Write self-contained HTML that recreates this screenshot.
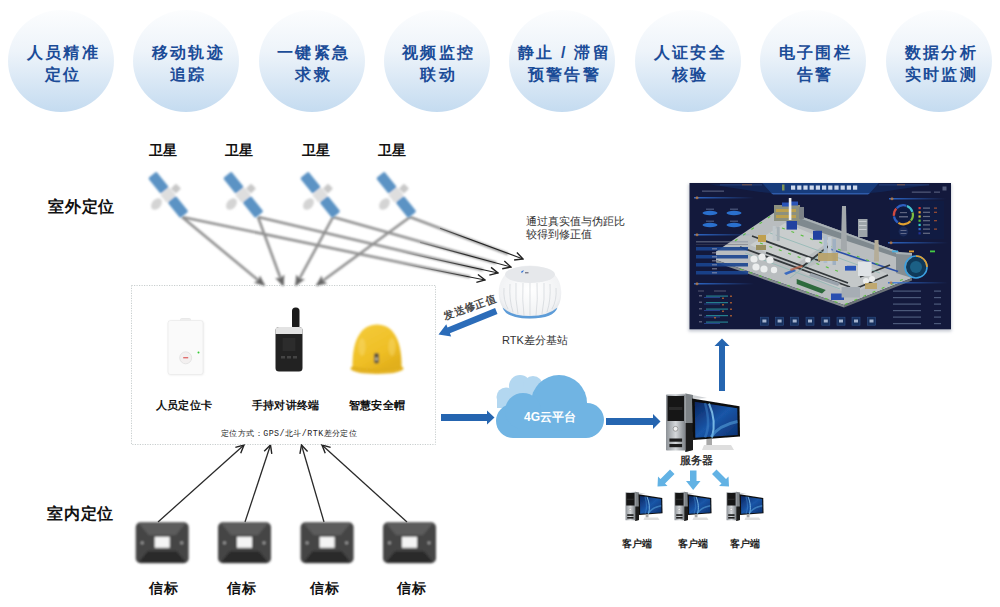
<!DOCTYPE html>
<html><head><meta charset="utf-8">
<style>
*{margin:0;padding:0;box-sizing:border-box}
html,body{width:1000px;height:607px;overflow:hidden;background:#fff}
body{position:relative;font-family:"Liberation Sans",sans-serif}
.c{position:absolute;width:106px;height:102px;border-radius:50%;
 background:linear-gradient(180deg,#fcfdfe 0%,#eef4fa 40%,#c4dbf0 100%);
 color:#1b4c98;font-weight:bold;font-size:16px;line-height:21.5px;text-align:center;
 display:flex;align-items:center;justify-content:center;letter-spacing:2.3px;padding-left:4.5px;padding-top:5px}
.t{position:absolute;z-index:2;font-weight:bold;color:#111;white-space:nowrap}
.n{position:absolute;z-index:2;color:#333;white-space:nowrap}
svg.ov{position:absolute;left:0;top:0}
</style></head><body>
<div class="c" style="left:8px;top:10px">人员精准<br>定位</div>
<div class="c" style="left:133px;top:10px">移动轨迹<br>追踪</div>
<div class="c" style="left:258.5px;top:10px">一键紧急<br>求救</div>
<div class="c" style="left:383.5px;top:10px">视频监控<br>联动</div>
<div class="c" style="left:509px;top:10px">静止 / 滞留<br>预警告警</div>
<div class="c" style="left:635px;top:10px">人证安全<br>核验</div>
<div class="c" style="left:760px;top:10px">电子围栏<br>告警</div>
<div class="c" style="left:886px;top:10px">数据分析<br>实时监测</div>

<div class="t" style="left:149px;top:142px;font-size:14px">卫星</div>
<div class="t" style="left:225px;top:142px;font-size:14px">卫星</div>
<div class="t" style="left:302px;top:142px;font-size:14px">卫星</div>
<div class="t" style="left:377.5px;top:142px;font-size:14px">卫星</div>
<div class="t" style="left:48px;top:197px;font-size:16px;letter-spacing:0.8px">室外定位</div>
<div class="t" style="left:47px;top:504px;font-size:16px;letter-spacing:0.8px">室内定位</div>
<div class="n" style="left:526px;top:215px;font-size:11px;line-height:13px">通过真实值与伪距比<br>较得到修正值</div>
<div class="n" style="left:502px;top:333px;font-size:11px">RTK差分基站</div>
<div class="n" style="left:444px;top:310.3px;font-size:10.5px;line-height:13px;font-weight:bold;color:#4a4a4a;transform:rotate(-20deg);transform-origin:0 50%">发送修正值</div>

<div class="t" style="left:156px;top:398px;font-size:11px;letter-spacing:0.2px">人员定位卡</div>
<div class="t" style="left:252px;top:398px;font-size:11px;letter-spacing:0.2px">手持对讲终端</div>
<div class="t" style="left:349px;top:398px;font-size:11px;letter-spacing:0.2px">智慧安全帽</div>
<div class="n" style="left:221px;top:428px;font-size:8.3px;letter-spacing:0.45px;font-family:'Liberation Mono',monospace;color:#222">定位方式：GPS/北斗/RTK差分定位</div>

<div class="t" style="left:149px;top:580px;font-size:14px;letter-spacing:1px">信标</div>
<div class="t" style="left:227px;top:580px;font-size:14px;letter-spacing:1px">信标</div>
<div class="t" style="left:310px;top:580px;font-size:14px;letter-spacing:1px">信标</div>
<div class="t" style="left:397px;top:580px;font-size:14px;letter-spacing:1px">信标</div>

<div class="t" style="left:680px;top:454px;font-size:10.5px;color:#333">服务器</div>
<div class="t" style="left:621.5px;top:536.5px;font-size:10px;color:#222">客户端</div>
<div class="t" style="left:678px;top:536.5px;font-size:10px;color:#222">客户端</div>
<div class="t" style="left:729.5px;top:536.5px;font-size:10px;color:#222">客户端</div>
<div class="t" style="left:524px;top:409px;font-size:12px;color:#fff">4G云平台</div>

<svg class="ov" width="1000" height="607" viewBox="0 0 1000 607">
<defs>
 <marker id="ah" markerWidth="10" markerHeight="10" refX="9" refY="5" orient="auto" markerUnits="userSpaceOnUse">
  <path d="M1,1 L9,5 L1,9" fill="none" stroke="#222" stroke-width="1.4"/>
 </marker>
 <filter id="bl"><feGaussianBlur stdDeviation="1"/></filter>
 <linearGradient id="lg" gradientUnits="userSpaceOnUse" x1="400" y1="0" x2="470" y2="0"><stop offset="0" stop-color="#333" stop-opacity="0"/><stop offset="1" stop-color="#222" stop-opacity="1"/></linearGradient>
 <marker id="ahg" markerWidth="10" markerHeight="10" refX="9" refY="5" orient="auto" markerUnits="userSpaceOnUse">
  <path d="M1,1.5 L9,5 L1,8.5 L3,5 Z" fill="#666" stroke="#666" stroke-width="1.4"/>
 </marker>
 <filter id="bl2"><feGaussianBlur stdDeviation="1.5"/></filter>

 <filter id="bl09"><feGaussianBlur stdDeviation="0.9"/></filter>
 <linearGradient id="hbar" x1="0" y1="0" x2="1" y2="0"><stop offset="0" stop-color="#2f70d8" stop-opacity="0.9"/><stop offset="1" stop-color="#2f70d8" stop-opacity="0"/></linearGradient>
 <filter id="bl13"><feGaussianBlur stdDeviation="1.2"/></filter>
 <filter id="bl04"><feGaussianBlur stdDeviation="0.45"/></filter>
 <filter id="bl05"><feGaussianBlur stdDeviation="0.6"/></filter>
 <radialGradient id="domeg" cx="0.5" cy="0.45" r="0.65"><stop offset="0" stop-color="#ffffff"/><stop offset="0.75" stop-color="#f1f2f4"/><stop offset="1" stop-color="#cfd3d8"/></radialGradient>
 <linearGradient id="helg" x1="0" y1="0" x2="0.6" y2="1"><stop offset="0" stop-color="#f5cc3c"/><stop offset="0.7" stop-color="#efbf26"/><stop offset="1" stop-color="#e2b01c"/></linearGradient>
 <linearGradient id="scr" x1="0" y1="0" x2="1" y2="1"><stop offset="0" stop-color="#0a2560"/><stop offset="0.5" stop-color="#1a56a8"/><stop offset="1" stop-color="#0c3070"/></linearGradient>
 <linearGradient id="silv" x1="0" y1="0" x2="1" y2="0"><stop offset="0" stop-color="#8d9297"/><stop offset="0.5" stop-color="#d5d8db"/><stop offset="1" stop-color="#7d8287"/></linearGradient>
 <g id="bcn">
  <rect x="0" y="0" width="53" height="41" rx="5" fill="#454545"/>
  <polygon points="3,1 50,1 40,13 13,13" fill="#5c5c5c"/>
  <polygon points="3,40 50,40 41,29 12,29" fill="#2b2b2b"/>
  <rect x="19" y="14.5" width="15" height="11" fill="#f4f4f4"/>
  <circle cx="6.5" cy="20.5" r="1.6" fill="#999"/><circle cx="46" cy="20.5" r="1.6" fill="#999"/>
 </g>
 <g id="pc">
  <polygon points="1,2 20.4,0.5 42,5 28,6" fill="#d0d3d6"/>
  <polygon points="20.4,0.5 28,2 28,57 20.4,59" fill="#7d8286"/>
  <polygon points="20.4,30 28,30 28,57 20.4,59" fill="#1c1c1c"/>
  <rect x="1" y="1.6" width="19.4" height="56" rx="0.8" fill="url(#silv)"/>
  <rect x="2.5" y="3" width="16.5" height="25" fill="#121212"/>
  <rect x="4" y="14" width="13.5" height="3" fill="#2a2a2a"/>
  <circle cx="10.5" cy="35.8" r="2.4" fill="#f2f2f2" stroke="#777" stroke-width="0.6"/>
  <rect x="4.4" y="45.5" width="12.7" height="3.2" fill="#1a1a1a"/><rect x="4.4" y="51" width="12.7" height="3.2" fill="#1a1a1a"/>
  <polygon points="27,5.5 74.5,13.2 75,43.6 28.1,46.9" fill="#0d0d0d"/>
  <polygon points="29.8,8.8 72.3,15.2 72.8,41.9 30.3,44.7" fill="url(#scr)"/>
  <path d="M44,10.5 C49,22 50,34 47,44.5" fill="none" stroke="#8fd0f5" stroke-width="2" opacity="0.8"/><path d="M46,44 C52,35 60,31 72.5,28.5" fill="none" stroke="#5aa8e0" stroke-width="3" opacity="0.55"/><path d="M40,10 C44,24 44,36 40,44.5" fill="none" stroke="#3f86cc" stroke-width="2.5" opacity="0.5"/>
  <rect x="41.4" y="46" width="5.6" height="6" fill="#a8a8a8"/>
  <polygon points="39,52 66,52 69,57 37,57" fill="#dedede"/>
 </g>
 <g id="sat">
  <rect x="-6" y="-5" width="12" height="10" fill="#dedede" transform="rotate(-40)"/>
  <rect x="-3.5" y="-3.5" width="7" height="7" rx="1" fill="#c8c8c8" transform="translate(8,-6.5) rotate(45)"/>
  <ellipse cx="-11.5" cy="9" rx="4.5" ry="6.5" fill="#d4d4d4" transform="rotate(40 -11.5 9)"/>
  <rect x="-10" y="-5.3" width="20" height="10.6" rx="1.5" fill="#5b93c4" transform="translate(-9.5,-12.3) rotate(51)"/>
  <rect x="-10" y="-5.3" width="20" height="10.6" rx="1.5" fill="#5b93c4" transform="translate(10,12) rotate(51)"/>
 </g>
</defs>
<!-- satellite lines -->
<g stroke="#909090" stroke-width="2.6" fill="none" filter="url(#bl)">
 <line x1="182" y1="217" x2="264" y2="285" marker-end="url(#ahg)"/>
 <line x1="258" y1="217" x2="283" y2="285" marker-end="url(#ahg)"/>
 <line x1="333" y1="217" x2="296" y2="285" marker-end="url(#ahg)"/>
 <line x1="410" y1="217" x2="317" y2="285" marker-end="url(#ahg)"/>
 <line x1="182" y1="217" x2="470" y2="277"/>
 <line x1="258" y1="217" x2="483" y2="270"/>
 <line x1="333" y1="217" x2="496" y2="263"/>
 <line x1="410" y1="217" x2="508" y2="254"/>
</g>
<g stroke="url(#lg)" stroke-width="1.15" fill="none" marker-end="url(#ah)">
 <line x1="380" y1="259.2" x2="485" y2="280"/>
 <line x1="400" y1="251.5" x2="498" y2="273"/>
 <line x1="420" y1="242.4" x2="511" y2="267"/>
 <line x1="440" y1="228.2" x2="523" y2="259"/>
</g>
<!-- beacon lines -->
<g stroke="#2a2a2a" stroke-width="1.3" fill="none" marker-end="url(#ah)">
 <line x1="158" y1="522" x2="244" y2="445"/>
 <line x1="245" y1="522" x2="270.5" y2="445"/>
 <line x1="324" y1="522" x2="301.5" y2="445"/>
 <line x1="407" y1="522" x2="322" y2="445"/>
</g>

<!-- satellites -->
<g filter="url(#bl13)">
 <use href="#sat" x="168" y="195"/>
 <use href="#sat" x="243" y="195"/>
 <use href="#sat" x="320" y="195"/>
 <use href="#sat" x="396" y="195"/>
</g>
<!-- RTK dome -->
<g filter="url(#bl04)">
 <path d="M499,296 C497,279 508,265.5 530,265.5 C552,265.5 563,279 561,296 C560,311 548,318.5 530,318.5 C512,318.5 500,311 499,296 Z" fill="url(#domeg)"/>
 <ellipse cx="530" cy="274.5" rx="25" ry="8.5" fill="#e6e8eb"/>
 <g stroke="#d0d4d9" stroke-width="0.7" fill="none">
  <path d="M504,288 Q503,300 508,309"/><path d="M510,284 Q509,300 513,312"/><path d="M516,283 Q515,300 518,314"/><path d="M523,283 Q522,300 524,315.5"/>
  <path d="M530,283 L530,316"/><path d="M537,283 Q538,300 536,315.5"/><path d="M544,283 Q545,300 542,314"/><path d="M550,284 Q551,300 547,312"/><path d="M556,288 Q557,300 552,309"/>
 </g>
 <path d="M502.5,307.5 Q506,318.5 530,318.5 Q554,318.5 557.5,307.5 Q548,316 530,316 Q512,316 502.5,307.5 Z" fill="#5d9cd8"/>
 <path d="M521,272 q1,-2 3,-1.5 l-1,1.2 q-1,0 -0.8,1.5 z" fill="#2a6ad0"/><rect x="525" y="272.3" width="3.5" height="1" fill="#556"/>
</g>
<!-- send arrow -->
<polygon points="495.1,308.1 447.5,327.5 446.3,324.3 438.5,334.5 451.2,336.4 449.9,333.2 497.5,313.9" fill="#2b6cb9"/>
<!-- card -->
<g>
 <rect x="180.5" y="318.5" width="10" height="3" rx="1" fill="#eee" stroke="#ddd" stroke-width="0.5"/>
 <rect x="168.5" y="321" width="35" height="54" rx="2.5" fill="#e6e6e6" filter="url(#bl09)"/><rect x="168" y="320.5" width="35" height="54" rx="2.5" fill="#fafafa" stroke="#e8e8e8" stroke-width="0.6"/>
 <circle cx="185.7" cy="357.8" r="6" fill="#f3f0f0" stroke="#ddd" stroke-width="0.7"/>
 <rect x="183.2" y="357" width="5" height="1.4" fill="#e07070"/>
 <circle cx="198.5" cy="352.4" r="1" fill="#3c3"/>
</g>
<!-- walkie -->
<g>
 <rect x="292" y="307.5" width="7.5" height="22" rx="3.5" fill="#1b1b1b"/>
 <rect x="275.5" y="327" width="27" height="44.5" rx="3.5" fill="#222"/>
 <path d="M275.5,334 L275.5,330 Q275.5,327 279,327 L299,327 Q302.5,327 302.5,330 L302.5,334 Z" fill="#e3e3e3"/>
 <rect x="282.6" y="338" width="12.8" height="13" fill="#2c2c2c"/>
 <rect x="281" y="356" width="4" height="2.5" fill="#444"/><rect x="287" y="356" width="4" height="2.5" fill="#444"/><rect x="293" y="356" width="4" height="2.5" fill="#444"/>
</g>
<!-- helmet -->
<g filter="url(#bl09)">
 <ellipse cx="377" cy="368.5" rx="26.5" ry="5.5" fill="#e4b220"/>
 <path d="M352.5,367 C352,338 362,324.5 377,324.5 C392,324.5 402,338 401.5,367 Q377,373 352.5,367 Z" fill="url(#helg)"/>
 <ellipse cx="362" cy="347" rx="3.5" ry="9" fill="#f9de7a" opacity="0.4"/><ellipse cx="392" cy="347" rx="3.5" ry="9" fill="#f9de7a" opacity="0.4"/>
 <path d="M353,367 Q377,373 401,367" fill="none" stroke="#d8a818" stroke-width="0.8"/>
 <rect x="374" y="353" width="5" height="10.5" rx="2" fill="#5d5540"/>
 <rect x="375.3" y="357.5" width="2.4" height="3" fill="#d0c8a8"/>
</g>
<!-- beacons -->
<g filter="url(#bl09)">
 <use href="#bcn" x="135.7" y="522.3"/>
 <use href="#bcn" x="218" y="522.3"/>
 <use href="#bcn" x="300.6" y="522.3"/>
 <use href="#bcn" x="383" y="522.3"/>
</g>
<!-- cloud -->
<g>
 <g fill="#b3d7f0">
  <circle cx="506" cy="397" r="9.5"/><circle cx="520" cy="386" r="11"/><circle cx="533" cy="386" r="10"/><rect x="497" y="396" width="40" height="12"/>
 </g>
 <g fill="#70b4e3">
  <rect x="496" y="404" width="107" height="34" rx="17"/>
  <circle cx="559" cy="403" r="28"/><circle cx="523" cy="411" r="18"/><circle cx="587" cy="420" r="17"/>
 </g>
</g>
<!-- blue arrows -->
<g fill="#2565b0">
 <rect x="441" y="414" width="47" height="7"/><polygon points="487,410.5 494.5,417.5 487,424.5"/>
 <rect x="606" y="418" width="48" height="7"/><polygon points="653,414 660.5,421.5 653,429"/>
 <rect x="719" y="345" width="6" height="46"/><polygon points="714.5,346 722,338.5 729.5,346"/>
</g>
<g fill="#62b2e4">
 <rect x="690" y="470.5" width="6.5" height="11"/><polygon points="686,481 693.2,490 700.5,481"/>
 <polygon points="670,469.5 674.5,474 665,483.5 667.5,486 657.5,486.5 658,476.5 660.5,479"/>
 <polygon points="716.5,469.5 712,474 721.5,483.5 719,486 729,486.5 728.5,476.5 726,479"/>
</g>
<!-- computers -->
<g filter="url(#bl04)"><use href="#pc" transform="translate(665,393)"/>
<use href="#pc" transform="translate(625,491.5) scale(0.5)"/>
<use href="#pc" transform="translate(674,491.5) scale(0.5)"/>
<use href="#pc" transform="translate(726,491.5) scale(0.5)"/></g>

<!-- dashboard -->
<g transform="translate(690,183)">
 <rect x="-1.5" y="1" width="263" height="147.5" fill="#9098a8" opacity="0.5" filter="url(#bl2)"/>
 <rect x="-0.5" y="0" width="261.5" height="146.3" fill="#13193c"/>
 <g fill="#aab" opacity="0.45"><rect x="9" y="112" width="3" height="1.5"/><rect x="9" y="118.5" width="3" height="1.5"/><rect x="9" y="125" width="3" height="1.5"/><rect x="9" y="131.5" width="3" height="1.5"/><rect x="9" y="138" width="3" height="1.5"/></g>
 <!-- platform -->
 <g filter="url(#bl04)">
 <polygon points="26,68.5 85,29 106,31.6 215,71.3 222,95 154,122 26,77" fill="#b9bdbf"/>
 <polygon points="26,77 154,122 154,124.5 26,79.5" fill="#858c91"/>
 <polygon points="154,122 222,95 222,97.5 154,124.5" fill="#6c7378"/>
 <!-- surface variation -->
 <polygon points="60,62 95,40 140,58 105,82" fill="#c9cdcd"/>
 <polygon points="110,88 150,70 200,92 160,112" fill="#c4c8c9"/>
 <!-- back wall -->
 <polygon points="105,31.6 212,70 212,76 105,41" fill="#7f898f"/>
 <polygon points="105,31.6 212,70 212,72 105,33.6" fill="#a9b1b5"/>
 <polygon points="206,69 222,70 222,95 206,90" fill="#858e93"/>
 <polygon points="206,69 222,70 222,72 206,71" fill="#a9b1b5"/>
 <line x1="140" y1="66" x2="208" y2="88.4" stroke="#2a4fa8" stroke-width="1.6"/>
 <!-- roads -->
 <g stroke="#33373b" stroke-width="1.8" fill="none">
  <line x1="50" y1="64" x2="160" y2="104"/>
  <line x1="76" y1="69.6" x2="158" y2="100"/>
  <line x1="62" y1="53" x2="130" y2="78"/>
  <line x1="112" y1="84" x2="140" y2="62"/>
  <line x1="160" y1="108" x2="198" y2="92"/>
  <line x1="170" y1="94" x2="200" y2="82"/>
 </g>
 <g stroke="#5cc040" stroke-width="1.1" fill="none" stroke-dasharray="3 7">
  <line x1="50" y1="86" x2="153" y2="121.5"/><line x1="155" y1="121.5" x2="216" y2="95"/><line x1="45" y1="58" x2="85" y2="30"/>
  <line x1="70" y1="60" x2="150" y2="89"/><line x1="92" y1="45" x2="190" y2="82"/>
 </g>
 <g stroke="#8fb8b4" stroke-width="1" fill="none" opacity="0.8">
  <line x1="55" y1="70" x2="150" y2="106"/><line x1="80" y1="50" x2="190" y2="90"/><line x1="100" y1="95" x2="130" y2="72"/>
 </g>
 <!-- top-left cluster -->
 <rect x="84" y="22" width="26" height="16" fill="#8c907f"/>
 <rect x="86" y="26" width="20" height="3" fill="#bca050"/><rect x="86" y="32" width="20" height="3" fill="#bca050"/>
 <rect x="92" y="19.5" width="7" height="4" fill="#2a55b8"/><rect x="101" y="18.5" width="7" height="4" fill="#2a55b8"/>
 <rect x="98.8" y="15" width="2.6" height="22" fill="#f0f0f0"/>
 <rect x="109" y="24" width="5" height="12" fill="#7c8288"/>
 <rect x="96.5" y="38" width="10.5" height="8.6" fill="#2343a0"/>
 <rect x="123" y="47.8" width="9" height="9" fill="#2343a0"/>
 <rect x="82.7" y="43" width="3" height="15" fill="#c0c8cc"/><rect x="86.7" y="44" width="3" height="14" fill="#a8b2b8"/>
 <rect x="68" y="52" width="8" height="7" fill="#c0a050"/>
 <rect x="66" y="62" width="10" height="5" fill="#9a9060"/>
 <!-- chimneys & towers -->
 <polygon points="150.8,68 152,23 156,23 157,68" fill="#a4a9ac"/>
 <rect x="168" y="36" width="9.5" height="18" fill="#9ea5aa"/>
 <rect x="169" y="38" width="7.5" height="1" fill="#c8ccd0"/><rect x="169" y="42" width="7.5" height="1" fill="#c8ccd0"/><rect x="169" y="46" width="7.5" height="1" fill="#c8ccd0"/>
 <polygon points="184,78.6 184.5,57 188.5,57 189,78.6" fill="#b5ad98"/>
 <rect x="133.6" y="52" width="3.5" height="28" fill="#aebdcc"/><rect x="138" y="54" width="3.5" height="27" fill="#c2ccd6"/><rect x="142.5" y="56" width="3.5" height="26" fill="#9fb0c2"/>
 <rect x="128" y="70" width="20" height="8" fill="#b8a060" opacity="0.85"/>
 <rect x="168" y="78.6" width="13.6" height="14.4" fill="#dfe3e6"/>
 <rect x="155" y="83" width="11" height="4.6" fill="#2a55b8"/>
 <rect x="156.9" y="82.8" width="9" height="2" fill="#2a55b8"/>
 <!-- tanks -->
 <g fill="#eceeee">
  <circle cx="64" cy="76" r="3.6"/><circle cx="72" cy="74" r="3.6"/><circle cx="80" cy="77" r="3.6"/>
  <circle cx="66" cy="84" r="3.6"/><circle cx="74" cy="86" r="3.6"/><circle cx="84" cy="87" r="3.2"/>
  <circle cx="176" cy="98" r="3"/><circle cx="182" cy="96" r="3"/><circle cx="118" cy="77" r="2.8"/>
 </g>
 <!-- lower area -->
 <polygon points="106.7,96 125,103 135.8,107 132,110.5 106.7,101" fill="#2f6a3c"/>
 <polygon points="121,90 150,100 148,103 119,93" fill="#9aa3ac"/>
 <rect x="141" y="110.5" width="13" height="6.5" fill="#2a4fb0"/>
 <rect x="151.6" y="104" width="18.4" height="10.5" fill="#a6adb4"/>
 <polygon points="94,90 104,86 106,88 96,92" fill="#3a6ac0"/>
 <polygon points="100,86 112,82 113,84 101,88" fill="#c06040" opacity="0.7"/>
 <rect x="175" y="100" width="12" height="6" fill="#c0a460" opacity="0.85"/>
 </g>
 <!-- header -->
 <polygon points="72,0 189,0 180,10 81,10" fill="#173c7c"/>
 <polygon points="81,10 180,10 178,11.5 83,11.5" fill="#3a78d8" opacity="0.7"/>
 <polygon points="20,1.5 72,0 81,10 70,9" fill="#12306a" opacity="0.55"/>
 <polygon points="241,1.5 189,0 180,10 191,9" fill="#12306a" opacity="0.55"/>
 <g fill="#e4ecfa" opacity="0.9">
  <rect x="101" y="2.5" width="4.2" height="4.2"/><rect x="107.2" y="2.5" width="4.2" height="4.2"/><rect x="113.4" y="2.5" width="4.2" height="4.2"/><rect x="119.6" y="2.5" width="4.2" height="4.2"/>
  <rect x="125.8" y="2.5" width="4.2" height="4.2"/><rect x="132" y="2.5" width="4.2" height="4.2"/><rect x="138.2" y="2.5" width="4.2" height="4.2"/><rect x="144.4" y="2.5" width="4.2" height="4.2"/>
  <rect x="150.6" y="2.5" width="4.2" height="4.2"/><rect x="156.8" y="2.5" width="4.2" height="4.2"/><rect x="163" y="2.5" width="4.2" height="4.2"/>
 </g>
 <rect x="92" y="1.5" width="2.5" height="6" fill="#c8d040" opacity="0.6"/>
 <rect x="30" y="1.5" width="42" height="0.8" fill="#3a5a9a" opacity="0.7"/><rect x="189" y="1.5" width="50" height="0.8" fill="#3a5a9a" opacity="0.7"/>
 <rect x="52" y="1.3" width="10" height="1" fill="#c07030" opacity="0.6"/><rect x="207" y="1.3" width="8" height="1" fill="#c07030" opacity="0.6"/>
 <rect x="12" y="7.5" width="22" height="1.3" fill="#8a94b0" opacity="0.5"/>
 <rect x="221.8" y="8.5" width="19" height="1.3" fill="#8a94b0" opacity="0.5"/><rect x="244" y="8.5" width="6" height="1.3" fill="#8a94b0" opacity="0.5"/>
 <rect x="252.5" y="3.5" width="4" height="4" fill="#8a94b0" opacity="0.55"/>
 <!-- left panels -->
 <rect x="4" y="14" width="60" height="1.5" fill="url(#hbar)"/>
 <circle cx="7" cy="14.7" r="1.5" fill="#d08030" opacity="0.7"/>
 <g fill="#2f80e8" opacity="0.85">
  <ellipse cx="20" cy="30" rx="7.5" ry="2.2"/><ellipse cx="44" cy="30" rx="7.5" ry="2.2"/>
  <ellipse cx="20" cy="42" rx="7.5" ry="2.2"/><ellipse cx="44" cy="42" rx="7.5" ry="2.2"/>
 </g>
 <g fill="#7a8ab0" opacity="0.45">
  <rect x="16" y="25.5" width="8" height="1.5"/><rect x="40" y="25.5" width="8" height="1.5"/><rect x="16" y="37.5" width="8" height="1.5"/><rect x="40" y="37.5" width="8" height="1.5"/>
 </g>
 <rect x="4" y="51" width="60" height="1.5" fill="url(#hbar)"/>
 <circle cx="7" cy="51.7" r="1.5" fill="#d08030" opacity="0.7"/>
 <rect x="6" y="58" width="52" height="1.5" fill="#8890a0" opacity="0.5"/>
 <rect x="6" y="61" width="52" height="0.8" fill="#556" opacity="0.5"/>
 <g fill="#1a4590" opacity="0.9">
  <rect x="6" y="64" width="52" height="3.5"/><rect x="6" y="72" width="52" height="3.5"/><rect x="6" y="80" width="52" height="3.5"/>
  <rect x="6" y="88" width="52" height="3.5"/>
 </g>
 <g fill="#aab" opacity="0.5">
  <rect x="22" y="65" width="5" height="1.5"/><rect x="22" y="73" width="5" height="1.5"/><rect x="22" y="81" width="5" height="1.5"/><rect x="22" y="89" width="5" height="1.5"/>
  <rect x="22" y="69" width="5" height="1.5"/><rect x="22" y="77" width="5" height="1.5"/><rect x="22" y="85" width="5" height="1.5"/>
 </g>
 <rect x="4" y="100" width="60" height="1.5" fill="url(#hbar)"/>
 <circle cx="7" cy="100.7" r="1.5" fill="#d08030" opacity="0.7"/>
 <rect x="8" y="107.5" width="6" height="1" fill="#99a" opacity="0.5"/><rect x="24" y="107.5" width="12" height="1" fill="#99a" opacity="0.5"/>
 <g fill="#2aa0a8" opacity="0.75">
  <rect x="16" y="112.5" width="22" height="1.2"/><rect x="16" y="119" width="22" height="1.2"/><rect x="16" y="125.5" width="22" height="1.2"/>
  <rect x="16" y="132" width="22" height="1.2"/><rect x="16" y="138.5" width="22" height="1.2"/>
 </g>
 <g fill="#2a4a9a" opacity="0.8">
  <rect x="14" y="114" width="16" height="1"/><rect x="14" y="120.5" width="16" height="1"/><rect x="14" y="127" width="16" height="1"/>
  <rect x="14" y="133.5" width="16" height="1"/><rect x="14" y="140" width="16" height="1"/>
 </g>
 <g fill="#c86a30" opacity="0.75">
  <rect x="32" y="114.5" width="2" height="1.5"/><rect x="40" y="112.5" width="2" height="1.5"/><rect x="32" y="121" width="2" height="1.5"/><rect x="40" y="119" width="2" height="1.5"/>
  <rect x="32" y="127.5" width="2" height="1.5"/><rect x="40" y="125.5" width="2" height="1.5"/><rect x="24" y="134" width="2" height="1.5"/><rect x="40" y="132" width="2" height="1.5"/>
 </g>
 <!-- right panels -->
 <rect x="199" y="15" width="57" height="1.5" fill="url(#hbar)"/><circle cx="202" cy="15.7" r="1.5" fill="#d08030" opacity="0.7"/>
 <rect x="200" y="18" width="54" height="38" fill="#101c44" opacity="0.8"/>
 <g fill="none" stroke-width="2.2" transform="translate(213.4,31.8)">
  <path d="M-6.7,-6.7 A9.5,9.5 0 0 1 3,-9" stroke="#2d5fc0"/>
  <path d="M3.5,-8.8 A9.5,9.5 0 0 1 9,-3" stroke="#45c0d0"/>
  <path d="M9.2,-2.4 A9.5,9.5 0 0 1 7.5,5.8" stroke="#7cc040"/>
  <path d="M7,6.4 A9.5,9.5 0 0 1 -5,8.1" stroke="#e0a030"/>
  <path d="M-5.6,7.7 A9.5,9.5 0 0 1 -9.4,1.5" stroke="#2d5fc0"/>
  <path d="M-9.5,1 A9.5,9.5 0 0 1 -7,-6.4" stroke="#d04a40"/>
 </g>
 <circle cx="213.4" cy="31.8" r="6" fill="#0e1a40"/>
 <rect x="210" y="29" width="7" height="1.2" fill="#aab" opacity="0.5"/><rect x="209" y="33" width="9" height="1.5" fill="#aab" opacity="0.5"/>
 <circle cx="213.4" cy="48.6" r="4.8" fill="#1a2a58"/><rect x="210.5" y="47" width="6" height="1" fill="#aab" opacity="0.5"/><rect x="210.5" y="50" width="6" height="1" fill="#aab" opacity="0.5"/>
 <g>
  <rect x="228.5" y="24" width="2.2" height="2.2" fill="#d33"/><rect x="228.5" y="28.2" width="2.2" height="2.2" fill="#e93"/>
  <rect x="228.5" y="32.4" width="2.2" height="2.2" fill="#cc3"/><rect x="228.5" y="36.6" width="2.2" height="2.2" fill="#5b3"/>
  <rect x="228.5" y="40.8" width="2.2" height="2.2" fill="#3cc"/><rect x="228.5" y="45" width="2.2" height="2.2" fill="#36c"/>
  <rect x="228.5" y="49.2" width="2.2" height="2.2" fill="#239"/>
 </g>
 <g fill="#8a8fa0" opacity="0.7">
  <rect x="233" y="24.5" width="7" height="1.2"/><rect x="233" y="28.7" width="7" height="1.2"/><rect x="233" y="32.9" width="7" height="1.2"/>
  <rect x="233" y="37.1" width="7" height="1.2"/><rect x="233" y="41.3" width="7" height="1.2"/><rect x="233" y="45.5" width="7" height="1.2"/><rect x="233" y="49.7" width="7" height="1.2"/>
 </g>
 <g fill="#c05a30" opacity="0.8">
  <rect x="244" y="24.5" width="3" height="1.2"/><rect x="244" y="28.7" width="3" height="1.2"/><rect x="244" y="37.1" width="3" height="1.2"/><rect x="244" y="45.5" width="3" height="1.2"/>
 </g>
 <rect x="198" y="59" width="60" height="1.5" fill="url(#hbar)"/><circle cx="201" cy="59.7" r="1.5" fill="#d08030" opacity="0.7"/>
 <rect x="202" y="67.5" width="6" height="1.8" fill="#4ab0e0"/><rect x="219" y="67.5" width="5" height="1.8" fill="#e0a030"/><rect x="240" y="67.5" width="5" height="1.8" fill="#4c4"/>
 <circle cx="226" cy="84" r="10" fill="#0f3a5a"/>
 <circle cx="226" cy="84" r="11" fill="none" stroke="#3aa0e0" stroke-width="1.6"/>
 <path d="M226,73 A11,11 0 0 1 237,84" fill="none" stroke="#e0a030" stroke-width="1.6"/>
 <circle cx="226" cy="84" r="6" fill="#1e6a90" opacity="0.8"/>
 <rect x="198" y="99" width="60" height="1.5" fill="url(#hbar)"/><circle cx="201" cy="99.7" r="1.5" fill="#d08030" opacity="0.7"/>
 <g fill="#5a6a8a" opacity="0.8">
  <rect x="203" y="107.5" width="28" height="1.2"/><rect x="203" y="114" width="28" height="1.2"/><rect x="203" y="120.5" width="28" height="1.2"/>
  <rect x="203" y="127" width="28" height="1.2"/><rect x="203" y="133.5" width="28" height="1.2"/><rect x="203" y="140" width="28" height="1.2"/>
  <rect x="244" y="107.5" width="7" height="1.2"/><rect x="244" y="114" width="7" height="1.2"/><rect x="244" y="120.5" width="7" height="1.2"/>
  <rect x="244" y="127" width="7" height="1.2"/><rect x="244" y="133.5" width="7" height="1.2"/><rect x="244" y="140" width="7" height="1.2"/>
 </g>
 <!-- bottom icons -->
 <g fill="#17305e" stroke="#2f5088" stroke-width="0.6">
  <rect x="70.4" y="134.2" width="8" height="8"/><rect x="85.6" y="134.2" width="8" height="8"/><rect x="100.7" y="134.2" width="8" height="8"/><rect x="116" y="134.2" width="8" height="8"/>
  <rect x="131.8" y="134.2" width="8" height="8"/><rect x="147" y="134.2" width="8" height="8"/><rect x="162" y="134.2" width="8" height="8"/><rect x="177.5" y="134.2" width="8" height="8"/>
 </g>
 <g fill="#c8d4ea" opacity="0.8">
  <rect x="72.4" y="136.5" width="4" height="3"/><rect x="87.6" y="136.5" width="4" height="3"/><rect x="102.7" y="136.5" width="4" height="3"/><rect x="118" y="136.5" width="4" height="3"/>
  <rect x="133.8" y="136.5" width="4" height="3"/><rect x="149" y="136.5" width="4" height="3"/><rect x="164" y="136.5" width="4" height="3"/><rect x="179.5" y="136.5" width="4" height="3"/>
 </g>
</g>
<!-- box -->
<rect x="131.5" y="285.5" width="304" height="159" fill="none" stroke="#c8cece" stroke-width="1" stroke-dasharray="1.2 1.3"/>
</svg>
</body></html>
